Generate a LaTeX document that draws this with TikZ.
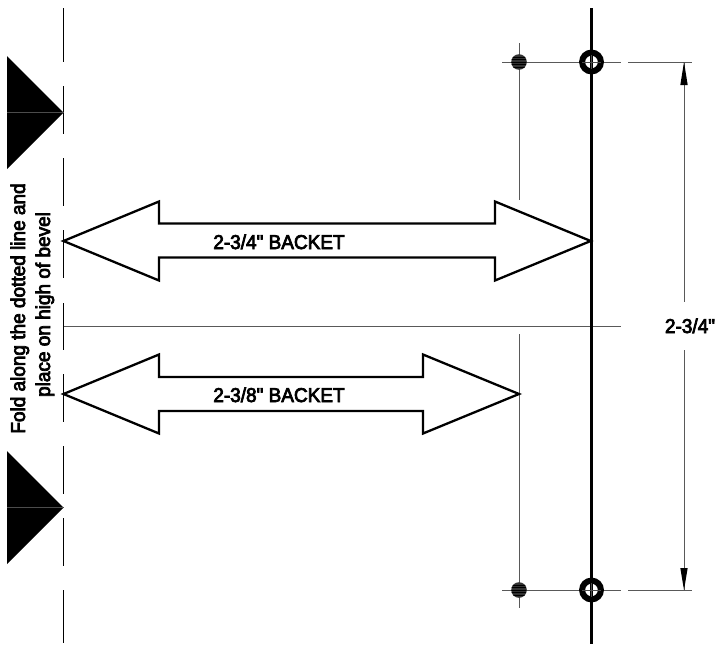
\documentclass[tikz,border=0pt]{standalone}
\usepackage{fontspec}
\newfontfamily\lab[FakeStretch=0.95]{Liberation Sans}
\newcommand{\heavy}[1]{\special{pdf:code 2 Tr 0.75 w}#1\special{pdf:code 0 Tr 0 w}}
\tikzset{
 thinline/.style={draw=black!65,line width=1pt},
 dashline/.style={draw=black,line width=1pt},
 mainline/.style={draw=black,line width=2.4pt},
 bigarrow/.style={draw=black,line width=2.3pt,fill=white,line join=miter},
 tri/.style={fill=black,draw=none},
 labeltext/.style={font=\lab\fontsize{20}{22}\selectfont,inner sep=0pt,text=black,align=center},
 dimhead/.style={fill=black,draw=none},
}
\begin{document}
\begin{tikzpicture}[x=1pt,y=-1pt]
\useasboundingbox (0,0) rectangle (715,645);
% fold line
\foreach \a/\b in {8/62,86/134,158/206,230/278,303/350,374/422,446/494,518/566,590/643}
  \draw[dashline] (63.5,\a) -- (63.5,\b);
% triangles
\foreach \c in {112.5,507.5}{
  \fill[tri] (7,\c-56.5) -- (63.5,\c) -- (7,\c+56.5) -- cycle;
  \draw[black!70,line width=0.5pt] (7,\c) -- (63.5,\c);
}
% thin lines
\draw[thinline] (63.5,326) -- (621,326);
\draw[thinline] (519,43) -- (519,200);
\draw[thinline] (519,334) -- (519,608);
\foreach \y in {62,590}{
  \draw[thinline] (502,\y) -- (621,\y);
  \draw[thinline] (628,\y) -- (692,\y);
}
% dimension
\coordinate (dimtop) at (684,62);
\coordinate (dimbot) at (684,590);
\draw[thinline] (dimtop) -- (684,302);
\draw[thinline] (684,350) -- (dimbot);
\fill[dimhead] (dimtop) -- (687.7,85) -- (680.3,85) -- cycle;
\fill[dimhead] (dimbot) -- (687.7,568) -- (680.3,568) -- cycle;
% main vertical
\draw[mainline] (591.3,8) -- (591.3,644);
% double arrows
\draw[bigarrow] (63.5,241) -- (159,201.5) -- (159,223.5) -- (495,223.5) -- (495,201.5) -- (590.7,241) -- (495,280.5) -- (495,257.5) -- (159,257.5) -- (159,280.5) -- cycle;
\draw[bigarrow] (63.5,394) -- (159,354.5) -- (159,377) -- (423,377) -- (423,354.5) -- (519,394) -- (423,433.5) -- (423,411) -- (159,411) -- (159,433.5) -- cycle;
% holes
\foreach \y in {62,590}{
  \fill[black!80] (519,\y) circle (7.8);
  \begin{scope}
    \clip (519,\y) circle (7.8);
    \foreach \d in {-5,-2.5,0,2.5,5} \draw[black,line width=0.6pt] (511,\y+\d) -- (527,\y+\d);
  \end{scope}
  \draw[black,line width=6pt] (591.5,\y) circle (9.4);
  \draw[black!70,line width=0.7pt] (582,\y) -- (601,\y);
  \draw[black!70,line width=0.7pt] (591.5,\y-7) -- (591.5,\y+7);
}
% labels
\node[labeltext,anchor=base] (lab1) at (279,249) {\heavy{2-3/4" BACKET}};
\node[labeltext,anchor=base] (lab2) at (279,402) {\heavy{2-3/8" BACKET}};
\node[labeltext,anchor=base] (lab3) at (690,333) {\heavy{2-3/4"}};
\node[labeltext,rotate=90,anchor=base] (lab4) at (25,308.5) {\heavy{Fold along the dotted line and}};
\node[labeltext,rotate=90,anchor=base] (lab5) at (50,304.5) {\heavy{place on high of bevel}};
\end{tikzpicture}
\end{document}
